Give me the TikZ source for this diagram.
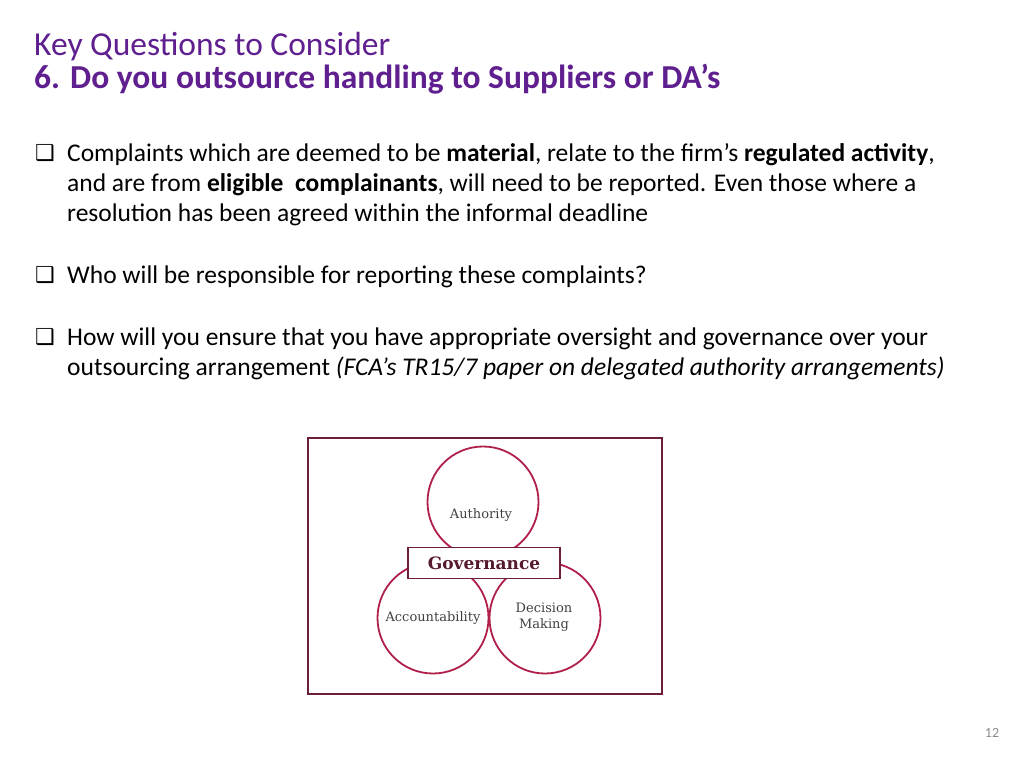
\documentclass[tikz,border=0pt]{standalone}
\usepackage{fontspec}
\setmainfont{Carlito}
\newfontfamily\symfont{DejaVu Sans}
\newfontfamily\diagfont{DejaVu Serif}
\definecolor{titlepurple}{HTML}{5F1F8F}
\definecolor{venn}{HTML}{B01E4A}
\definecolor{frame}{HTML}{6B1F3A}
\tikzset{
    line/.style={anchor=base west, inner sep=0pt, font=\fontsize{25.5}{30}\selectfont},
    tick box/.style={anchor=base west, inner sep=0pt, font=\symfont\fontsize{22}{26}\selectfont},
    ring/.style={circle, draw=venn, line width=1.8pt, minimum size=111pt, inner sep=0pt},
    label text/.style={font=\diagfont\fontsize{13}{16}\selectfont, text=black!75, align=center},
}
\begin{document}
\begin{tikzpicture}[x=1pt, y=-1pt]
\useasboundingbox (0,0) rectangle (1024,768);
% title
\node[anchor=base west, inner sep=0pt, text=titlepurple, font=\fontsize{33.5}{38}\selectfont] (title) at (34,56) {Key Questions to Consider};
\node[anchor=base west, inner sep=0pt, text=titlepurple, font=\bfseries\fontsize{33.5}{38}\selectfont] (subtitle) at (34,88) {6. Do you outsource handling to Suppliers or DA’s};
% bullets
\foreach \y in {160,282,344}
    \node[tick box] at (35,\y) {\textbf{❑}};
\node[line] (l1) at (67,161) {Complaints which are deemed to be \textbf{material}, relate to the firm’s \textbf{regulated activity},};
\node[line] (l2) at (67,191) {and are from \textbf{eligible\ \ complainants}, will need to be reported. Even those where a};
\node[line] (l3) at (67,221) {resolution has been agreed within the informal deadline};
\node[line] (l4) at (67,283) {Who will be responsible for reporting these complaints?};
\node[line] (l5) at (67,345) {How will you ensure that you have appropriate oversight and governance over your};
\node[line] (l6) at (67,375) {outsourcing arrangement \textit{(FCA’s TR15/7 paper on delegated authority arrangements)}};
% governance diagram
\draw[frame, line width=2.5pt] (308,438) rectangle (662,694);
\node[ring] (authority) at (483,502) {};
\node[ring] (accountability) at (433,618) {};
\node[ring] (decision) at (545,618) {};
\node[label text] (authority text) at (481,515) {Authority};
\node[label text] (accountability text) at (433,618) {Accountability};
\node[label text] (decision text) at (544,617) {Decision\\Making};
\node[draw=frame, line width=1.8pt, fill=white, minimum width=152pt, minimum height=31pt,
    font=\diagfont\bfseries\fontsize{17}{20}\selectfont, text=frame!80!black] (governance) at (484,563) {Governance};
% page number
\node[text=black!45, font=\fontsize{14}{16}\selectfont] (page) at (992,733) {12};
\end{tikzpicture}
\end{document}
